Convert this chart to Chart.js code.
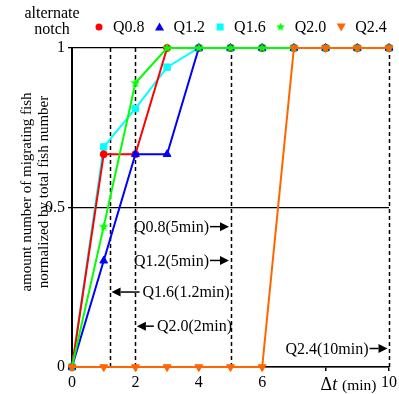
<!DOCTYPE html>
<html>
<head>
<meta charset="utf-8">
<script src="https://cdn.jsdelivr.net/npm/chart.js@4.4.1/dist/chart.umd.min.js"></script>
<style>
  html, body { margin: 0; padding: 0; background: #fff; }
  #wrap { width: 399px; height: 394px; }
</style>
</head>
<body>
<div id="wrap"><canvas id="c" width="399" height="394"></canvas></div>
<script>
// Elapsed time (min) and fraction of fish that passed, per notch discharge
const times = [0, 1, 2, 3, 4, 5, 6, 7, 8, 9, 10];
const seriesNames = ['Q0.8', 'Q1.2', 'Q1.6', 'Q2.0', 'Q2.4'];
const q08 = [0, 0.667, 0.667, 1, 1, 1, 1, 1, 1, 1, 1];
const q12 = [0, 0.333, 0.667, 0.667, 1, 1, 1, 1, 1, 1, 1];
const q16 = [0, 0.69, 0.81, 0.94, 1, 1, 1, 1, 1, 1, 1];
const q20 = [0, 0.44, 0.89, 1, 1, 1, 1, 1, 1, 1, 1];
const q24 = [0, 0, 0, 0, 0, 0, 0, 1, 1, 1, 1];

const xTicks = [0, 2, 4, 6, 8, 10];
const yTicks = [0, 0.5, 1];

// Time at which all fish had passed, per discharge (dashed guides)
const passTimes = [1.2, 2, 5, 10];
const notes = ['Q0.8(5min)', 'Q1.2(5min)', 'Q1.6(1.2min)', 'Q2.0(2min)', 'Q2.4(10min)'];
const noteTimes = [5, 5, 1.2, 2, 10];
const noteLevels = [0.44, 0.334, 0.235, 0.128, 0.058];

const SERIF = '"Liberation Serif", "Times New Roman", serif';

// arrow styling per note: direction and shaft length in px
const noteStyle = {
  'Q0.8(5min)':   { dir: 1,  len: 19 },
  'Q1.2(5min)':   { dir: 1,  len: 19 },
  'Q1.6(1.2min)': { dir: -1, len: 28 },
  'Q2.0(2min)':   { dir: -1, len: 17 },
  'Q2.4(10min)':  { dir: 1,  len: 18 }
};

function starImage(size, color) {
  const cv = document.createElement('canvas');
  cv.width = size; cv.height = size;
  const g = cv.getContext('2d');
  const cx = size / 2, cy = size / 2, R = size / 2, r = R * 0.45;
  g.beginPath();
  for (let i = 0; i < 10; i++) {
    const a = -Math.PI / 2 + i * Math.PI / 5;
    const rad = i % 2 === 0 ? R : r;
    g.lineTo(cx + rad * Math.cos(a), cy + rad * Math.sin(a));
  }
  g.closePath();
  g.fillStyle = color;
  g.fill();
  return cv;
}

const colors = ['#ff0000', '#0000ff', '#00ffff', '#00ff00', '#ff6600'];
const starPt = starImage(10, colors[3]);

const seriesValues = [q08, q12, q16, q20, q24];
const styles = [
  { pointStyle: 'circle', pointRadius: 3.5, rot: 0, order: 3 },
  { pointStyle: 'triangle', pointRadius: 4.5, rot: 0, order: 2 },
  { pointStyle: 'rect', pointRadius: 4.5, rot: 0, order: 4 },
  { pointStyle: starPt, pointRadius: 5, rot: 0, order: 1 },
  { pointStyle: 'triangle', pointRadius: 4.5, rot: 180, order: 0 }
];

const datasets = seriesNames.map((name, i) => ({
  label: name,
  data: times.map((t, k) => ({ x: t, y: seriesValues[i][k] })),
  borderColor: colors[i],
  backgroundColor: colors[i],
  borderWidth: 2,
  tension: 0,
  fill: false,
  pointStyle: styles[i].pointStyle,
  pointRadius: styles[i].pointRadius,
  pointRotation: styles[i].rot,
  pointBorderWidth: 1,
  order: styles[i].order,
  clip: false
}));

const decorations = {
  id: 'decorations',
  beforeDatasetsDraw(chart) {
    const { ctx, scales: { x, y } } = chart;
    ctx.save();
    ctx.strokeStyle = '#000';
    ctx.lineWidth = 1.5;
    ctx.setLineDash([4, 3]);
    passTimes.forEach(t => {
      const px = Math.round(x.getPixelForValue(t)) + 0.5;
      ctx.beginPath();
      ctx.moveTo(px, y.getPixelForValue(1));
      ctx.lineTo(px, y.getPixelForValue(0));
      ctx.stroke();
    });
    ctx.restore();
  },
  afterDraw(chart) {
    const { ctx, scales: { x, y } } = chart;
    ctx.save();

    // notes with arrows toward the guide lines
    ctx.font = '16px ' + SERIF;
    ctx.fillStyle = '#000';
    ctx.strokeStyle = '#000';
    ctx.textBaseline = 'middle';
    notes.forEach((txt, i) => {
      const st = noteStyle[txt];
      const tip = x.getPixelForValue(noteTimes[i]) - st.dir * 1.5;
      const py = y.getPixelForValue(noteLevels[i]);
      const tail = tip - st.dir * st.len;
      const head = 9;
      ctx.lineWidth = 1.5;
      ctx.beginPath();
      ctx.moveTo(tail, py);
      ctx.lineTo(tip - st.dir * head, py);
      ctx.stroke();
      ctx.beginPath();
      ctx.moveTo(tip, py);
      ctx.lineTo(tip - st.dir * head, py - 4.5);
      ctx.lineTo(tip - st.dir * head, py + 4.5);
      ctx.closePath();
      ctx.fill();
      if (st.dir > 0) {
        ctx.textAlign = 'right';
        ctx.fillText(txt, tail - 1, py + 1);
      } else {
        ctx.textAlign = 'left';
        ctx.fillText(txt, tail + 3, py + 1);
      }
    });

    // x axis quantity label at the 8 min tick
    const x8 = x.getPixelForValue(8);
    const by = 390;
    ctx.textAlign = 'left';
    ctx.textBaseline = 'alphabetic';
    ctx.font = '18px ' + SERIF;
    ctx.fillText('\u0394', x8 - 5, by);
    let w = ctx.measureText('\u0394').width;
    ctx.font = 'italic 18px ' + SERIF;
    ctx.fillText('t', x8 - 5 + w, by);
    w += ctx.measureText('t').width;
    ctx.font = '15.5px ' + SERIF;
    ctx.fillText(' (min)', x8 - 5 + w + 1, by);

    // y axis title (two lines)
    ctx.font = '15px ' + SERIF;
    ctx.textAlign = 'center';
    ctx.textBaseline = 'middle';
    ctx.save();
    ctx.translate(27, 192);
    ctx.rotate(-Math.PI / 2);
    ctx.fillText('amount number of migrating fish', 0, 0);
    ctx.restore();
    ctx.save();
    ctx.translate(44, 192);
    ctx.rotate(-Math.PI / 2);
    ctx.fillText('normalized by total fish number', 0, 0);
    ctx.restore();

    // legend
    ctx.font = '16px ' + SERIF;
    ctx.textAlign = 'center';
    ctx.fillText('alternate', 52, 14);
    ctx.fillText('notch', 52, 30);
    ctx.textAlign = 'left';
    let lx = 99;
    const ly = 27;
    seriesNames.forEach((name, i) => {
      ctx.fillStyle = colors[i];
      ctx.beginPath();
      if (i === 0) {
        ctx.arc(lx, ly, 3.5, 0, Math.PI * 2);
      } else if (i === 1) {
        ctx.moveTo(lx, ly - 4.5); ctx.lineTo(lx + 4.5, ly + 3.5); ctx.lineTo(lx - 4.5, ly + 3.5);
      } else if (i === 2) {
        ctx.rect(lx - 3.5, ly - 3.5, 7, 7);
      } else if (i === 3) {
        ctx.drawImage(starImage(9, colors[3]), lx - 4.5, ly - 4.5);
      } else {
        ctx.moveTo(lx, ly + 4.5); ctx.lineTo(lx + 4.5, ly - 3.5); ctx.lineTo(lx - 4.5, ly - 3.5);
      }
      ctx.closePath();
      ctx.fill();
      ctx.fillStyle = '#000';
      ctx.fillText(name, lx + 14, ly + 1);
      lx += 14 + ctx.measureText(name).width + 15;
    });
    ctx.restore();
  }
};

new Chart(document.getElementById('c'), {
  type: 'line',
  data: { datasets },
  options: {
    responsive: false,
    animation: false,
    events: [],
    layout: { padding: { top: 48, right: 8, left: 0, bottom: 0 } },
    plugins: { legend: { display: false }, tooltip: { enabled: false } },
    scales: {
      x: {
        type: 'linear',
        min: 0, max: 10,
        afterFit(s) { s.height = 27; },
        afterBuildTicks(s) { s.ticks = xTicks.map(v => ({ value: v })); },
        ticks: {
          color: '#000',
          font: { family: SERIF, size: 16 },
          padding: 2,
          maxRotation: 0,
          callback: v => (v === 8 ? '' : String(v))
        },
        grid: { drawOnChartArea: false, drawTicks: true, tickLength: 4, color: '#000', lineWidth: 1.5 },
        border: { display: true, color: '#000', width: 1.5 }
      },
      y: {
        min: 0, max: 1,
        afterFit(s) { s.width = 72; },
        afterBuildTicks(s) { s.ticks = yTicks.map(v => ({ value: v })); },
        ticks: {
          color: '#000',
          font: { family: SERIF, size: 16 },
          padding: 3,
          callback: v => String(v)
        },
        grid: { color: '#000', lineWidth: 1.3, tickLength: 4, drawTicks: true },
        border: { display: true, color: '#000', width: 2 }
      }
    }
  },
  plugins: [decorations]
});
</script>
</body>
</html>
